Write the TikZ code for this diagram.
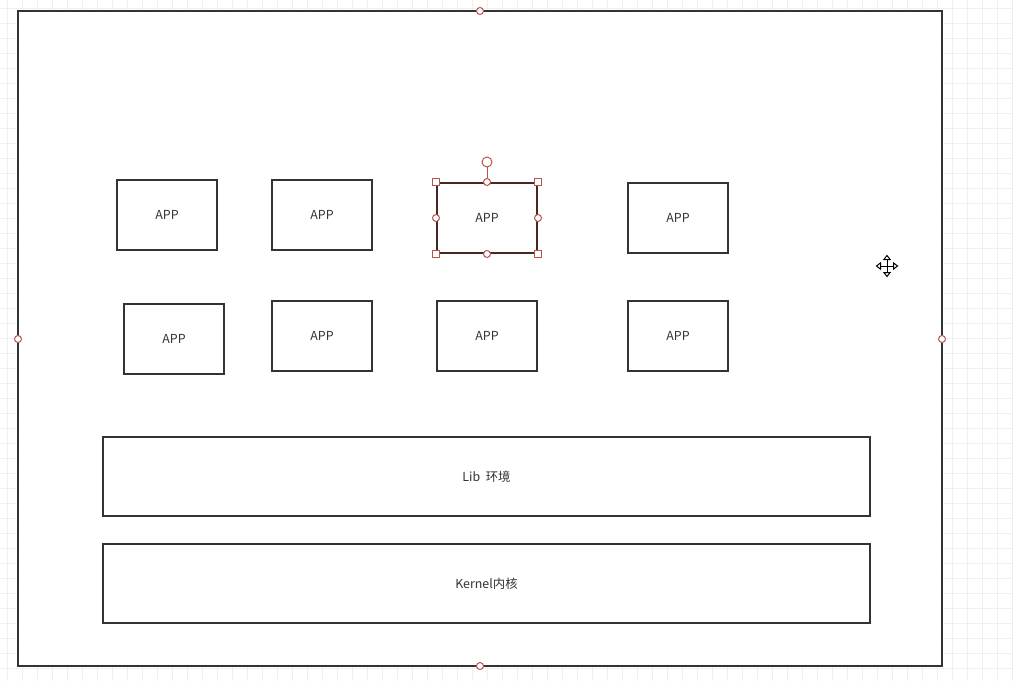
\documentclass[tikz,border=0pt]{standalone}
\usepackage{fontspec}
\setmainfont{Noto Sans CJK SC}
\usepackage{xcolor}
\usepackage{tikz}
\usetikzlibrary{arrows.meta,positioning}
\definecolor{gridgray}{HTML}{EFEFEF}
\definecolor{boxline}{HTML}{333333}
\definecolor{selline}{HTML}{4A2626}
\definecolor{handlered}{HTML}{B85450}
\tikzset{
  gridline/.style={
    draw=gridgray,
    line width=0.75pt
  },
  framebox/.style={
    draw=boxline,
    line width=1.5pt,
    fill=white
  },
  appbox/.style={
    draw=boxline,
    line width=1.5pt,
    fill=white,
    minimum width=75pt,
    minimum height=52.5pt,
    inner sep=0pt,
    text=boxline,
    font=\fontsize{9.3}{11}\selectfont
  },
  layerbox/.style={
    draw=boxline,
    line width=1.5pt,
    fill=white,
    minimum width=575.25pt,
    minimum height=59.25pt,
    inner sep=0pt,
    text=boxline,
    font=\fontsize{9.3}{11}\selectfont
  },
  handledot/.style={
    circle,
    draw=handlered,
    fill=white,
    line width=0.75pt,
    minimum size=5.25pt,
    inner sep=0pt
  },
  handlesq/.style={
    rectangle,
    draw=handlered,
    fill=white,
    line width=0.75pt,
    minimum size=5.25pt,
    inner sep=0pt
  },
  cursorarrow/.style={
    {Triangle[open,length=4pt,width=6pt]}-{Triangle[open,length=4pt,width=6pt]},
    line width=0.75pt,
    black
  }
}

\begin{document}
\begin{tikzpicture}[x=0.75pt,y=-0.75pt]
    \useasboundingbox (0,0) rectangle (1013,681);
    \fill[white] (0,0) rectangle (1013,681);
    % background grid
    \foreach \gx in {7.5,22.5,...,1012.5}
      \draw[gridline] (\gx,0) -- (\gx,681);
    \foreach \gy in {8.3,23.3,...,680}
      \draw[gridline] (0,\gy) -- (1013,\gy);

    \draw[framebox] (18,11) rectangle (942,666);

    \node[appbox] (app1) at (167,215) {APP};
    \node[appbox] (app2) at (322,215) {APP};
    \node[appbox, draw=selline] (app3) at (487,218) {APP};
    \node[appbox] (app4) at (678,218) {APP};
    \node[appbox] (app5) at (174,339) {APP};
    \node[appbox] (app6) at (322,336) {APP};
    \node[appbox] (app7) at (487,336) {APP};
    \node[appbox] (app8) at (678,336) {APP};

    \node[layerbox] (lib) at (486.5,476.5) {Lib\ \ 环境};
    \node[layerbox] (kernel) at (486.5,583.5) {Kernel内核};

    % selection handles
    \node[handledot] (frametop) at (480,11) {};
    \node[handledot] (framebottom) at (480,666) {};
    \node[handledot] (frameleft) at (18,339) {};
    \node[handledot] (frameright) at (942,339) {};

    \node[handlesq] (selnw) at (app3.north west) {};
    \node[handlesq] (selne) at (app3.north east) {};
    \node[handlesq] (selsw) at (app3.south west) {};
    \node[handlesq] (selse) at (app3.south east) {};
    \node[handledot] (seln) at (app3.north) {};
    \node[handledot] (sels) at (app3.south) {};
    \node[handledot] (selw) at (app3.west) {};
    \node[handledot] (sele) at (app3.east) {};
    \node[handledot, minimum size=7.5pt, above=15pt of seln.center, anchor=center] (rotate) {};
    \draw[handlered, line width=0.75pt] (rotate) -- (seln);

    % move cursor
    \coordinate (cursor) at (887,266);
    \draw[cursorarrow] ([xshift=-8.5pt]cursor) -- ([xshift=8.5pt]cursor);
    \draw[cursorarrow] ([yshift=-8.5pt]cursor) -- ([yshift=8.5pt]cursor);
\end{tikzpicture}
\end{document}
